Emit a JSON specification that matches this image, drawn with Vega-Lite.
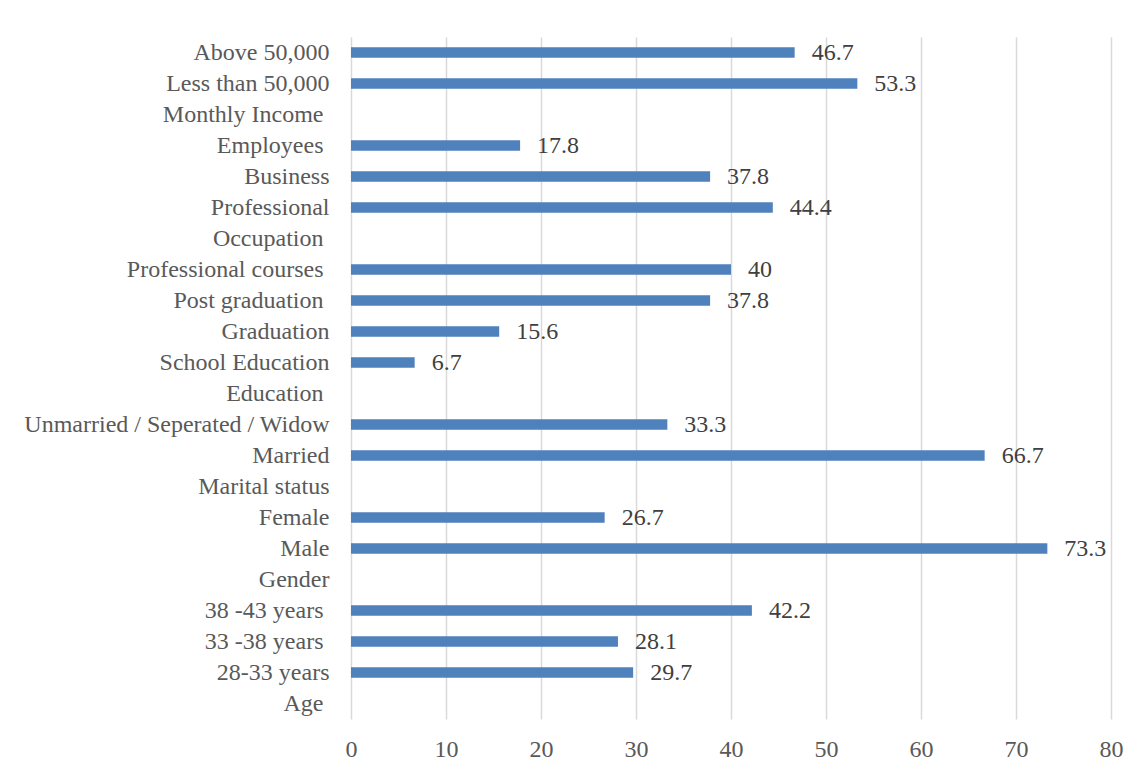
{
  "$schema": "https://vega.github.io/schema/vega-lite/v6.json",
  "autosize": {"type": "none"},
  "padding": {"left": 351, "top": 37, "right": 29, "bottom": 54},
  "width": 760,
  "height": 682,
  "background": "white",
  "config": {
    "view": {"stroke": null},
    "font": "Liberation Serif",
    "axis": {"labelFont": "Liberation Serif", "labelFontSize": 24, "labelColor": "#595959", "labelLimit": 0}
  },
  "data": {
    "values": [
      {"label": "Above 50,000", "value": 46.7},
      {"label": "Less than 50,000", "value": 53.3},
      {"label": "Monthly Income\u2005\u200b", "value": null},
      {"label": "Employees\u2005\u200b", "value": 17.8},
      {"label": "Business", "value": 37.8},
      {"label": "Professional", "value": 44.4},
      {"label": "Occupation\u2005\u200b", "value": null},
      {"label": "Professional courses\u2005\u200b", "value": 40},
      {"label": "Post graduation\u2005\u200b", "value": 37.8},
      {"label": "Graduation", "value": 15.6},
      {"label": "School Education", "value": 6.7},
      {"label": "Education\u2005\u200b", "value": null},
      {"label": "Unmarried / Seperated / Widow", "value": 33.3},
      {"label": "Married", "value": 66.7},
      {"label": "Marital status", "value": null},
      {"label": "Female", "value": 26.7},
      {"label": "Male", "value": 73.3},
      {"label": "Gender", "value": null},
      {"label": "38 -43 years\u2005\u200b", "value": 42.2},
      {"label": "33 -38 years\u2005\u200b", "value": 28.1},
      {"label": "28-33 years", "value": 29.7},
      {"label": "Age\u2005\u200b", "value": null}
    ]
  },
  "encoding": {
    "y": {
      "field": "label",
      "type": "nominal",
      "sort": null,
      "title": null,
      "scale": {
        "domain": ["Above 50,000", "Less than 50,000", "Monthly Income\u2005\u200b", "Employees\u2005\u200b", "Business", "Professional", "Occupation\u2005\u200b", "Professional courses\u2005\u200b", "Post graduation\u2005\u200b", "Graduation", "School Education", "Education\u2005\u200b", "Unmarried / Seperated / Widow", "Married", "Marital status", "Female", "Male", "Gender", "38 -43 years\u2005\u200b", "33 -38 years\u2005\u200b", "28-33 years", "Age\u2005\u200b"],
        "paddingInner": 0.66,
        "paddingOuter": 0.33
      },
      "axis": {"domain": false, "ticks": false, "labelPadding": 22, "grid": false}
    },
    "x": {
      "field": "value",
      "type": "quantitative",
      "title": null,
      "scale": {"domain": [0, 80], "nice": false},
      "axis": {"values": [0, 10, 20, 30, 40, 50, 60, 70, 80], "domain": false, "ticks": false, "grid": true, "gridColor": "#d9d9d9", "gridWidth": 1.5, "labelPadding": 18, "labelFlush": false}
    }
  },
  "layer": [
    {"mark": {"type": "bar", "color": "#4f81bd"}},
    {
      "mark": {"type": "text", "align": "left", "baseline": "middle", "dx": 17, "font": "Liberation Serif", "fontSize": 24, "color": "#404040"},
      "encoding": {"text": {"field": "value", "type": "quantitative"}}
    }
  ]
}
